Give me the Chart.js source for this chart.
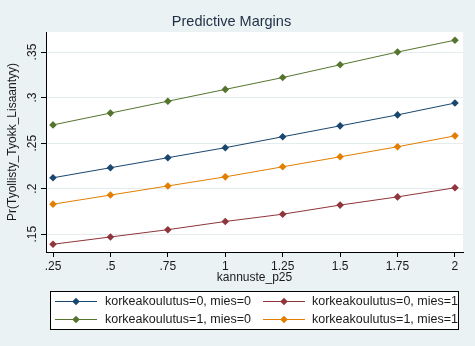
<!DOCTYPE html>
<html>
<head>
<meta charset="utf-8">
<script src="https://cdn.jsdelivr.net/npm/chart.js@4/dist/chart.umd.min.js"></script>
<style>
  html, body { margin: 0; padding: 0; background: #eaf2f3; }
  #wrap { width: 475px; height: 346px; }
</style>
</head>
<body>
<div id="wrap"><canvas id="c" width="475" height="346"></canvas></div>
<script>
// kannuste_p25 values at which margins were evaluated
const xValues = [0.25, 0.5, 0.75, 1, 1.25, 1.5, 1.75, 2];
const xTicks = [0.25, 0.5, 0.75, 1, 1.25, 1.5, 1.75, 2];
const yTicks = [0.15, 0.2, 0.25, 0.3, 0.35];

// Predicted Pr(Tyollisty_Tyokk_Lisaantyy) by group
const seriesLabels = [
  'korkeakoulutus=0, mies=0',
  'korkeakoulutus=0, mies=1',
  'korkeakoulutus=1, mies=0',
  'korkeakoulutus=1, mies=1'
];
const k0m0 = [0.212, 0.223, 0.234, 0.245, 0.257, 0.269, 0.281, 0.294];
const k0m1 = [0.139, 0.147, 0.155, 0.164, 0.172, 0.182, 0.191, 0.201];
const k1m0 = [0.270, 0.283, 0.296, 0.309, 0.322, 0.336, 0.350, 0.363];
const k1m1 = [0.183, 0.193, 0.203, 0.213, 0.224, 0.235, 0.246, 0.258];

const colors = ['#1a476f', '#90353b', '#55752f', '#e37e00'];
const seriesData = [k0m0, k0m1, k1m0, k1m1];

const FONT = '"Liberation Sans", Arial, sans-serif';

function fmt(v) {
  let s = String(Math.round(v * 100) / 100);
  return s.startsWith('0.') ? s.slice(1) : s;
}

// White plotting region on the light panel background
const plotBg = {
  id: 'plotBg',
  beforeDraw(chart) {
    const a = chart.chartArea, ctx = chart.ctx;
    ctx.save();
    ctx.fillStyle = '#eaf2f3';
    ctx.fillRect(0, 0, chart.width, chart.height);
    ctx.fillStyle = '#ffffff';
    ctx.fillRect(a.left, a.top, a.right - a.left, a.bottom - a.top);
    ctx.restore();
  }
};

// Boxed two-column legend below the axis title
const boxLegend = {
  id: 'boxLegend',
  afterDraw(chart) {
    const ctx = chart.ctx;
    const box = { l: 50.5, t: 291.5, r: 458.5, b: 329.5 };
    ctx.save();
    ctx.fillStyle = '#ffffff';
    ctx.fillRect(box.l, box.t, box.r - box.l, box.b - box.t);
    ctx.strokeStyle = '#000000';
    ctx.lineWidth = 1;
    ctx.strokeRect(box.l, box.t, box.r - box.l, box.b - box.t);
    const cols = [{ x0: 55, x1: 97, tx: 105 }, { x0: 263, x1: 305, tx: 312 }];
    const rows = [301.5, 319.5];
    ctx.font = '12.5px ' + FONT;
    ctx.textBaseline = 'middle';
    ctx.textAlign = 'left';
    chart.data.datasets.forEach((ds, i) => {
      const c = cols[i % 2], y = rows[Math.floor(i / 2)];
      ctx.strokeStyle = ds.borderColor;
      ctx.beginPath();
      ctx.moveTo(c.x0, y);
      ctx.lineTo(c.x1, y);
      ctx.stroke();
      const mx = (c.x0 + c.x1) / 2, r = 3.8;
      ctx.fillStyle = ds.borderColor;
      ctx.beginPath();
      ctx.moveTo(mx, y - r);
      ctx.lineTo(mx + r, y);
      ctx.lineTo(mx, y + r);
      ctx.lineTo(mx - r, y);
      ctx.closePath();
      ctx.fill();
      ctx.fillStyle = '#1a1a1a';
      ctx.fillText(ds.label, c.tx, y + 0.5);
    });
    ctx.restore();
  }
};

const datasets = seriesLabels.map((label, i) => ({
  label,
  data: xValues.map((x, j) => ({ x, y: seriesData[i][j] })),
  borderColor: colors[i],
  backgroundColor: colors[i],
  borderWidth: 1,
  pointStyle: 'rectRot',
  pointRadius: 3.8,
  pointHoverRadius: 3.8,
  pointBorderWidth: 0,
  tension: 0
}));

new Chart(document.getElementById('c'), {
  type: 'line',
  data: { datasets },
  plugins: [plotBg, boxLegend],
  options: {
    responsive: false,
    animation: false,
    events: [],
    layout: { padding: { left: 0, right: 12, top: 0, bottom: 54 } },
    plugins: {
      legend: { display: false },
      tooltip: { enabled: false },
      title: {
        display: true,
        text: 'Predictive Margins',
        color: '#1e2e44',
        font: { family: FONT, size: 14.5, weight: 'normal', lineHeight: 1.2 },
        padding: { top: 13, bottom: 1.6 }
      }
    },
    scales: {
      x: {
        type: 'linear',
        min: 0.2195,
        max: 2.035,
        afterBuildTicks(scale) { scale.ticks = xTicks.map(v => ({ value: v })); },
        afterFit(scale) { scale.height = 40; },
        ticks: {
          callback: v => fmt(v),
          color: '#1a1a1a',
          font: { family: FONT, size: 12 },
          padding: 2,
          maxRotation: 0,
          autoSkip: false
        },
        grid: { drawOnChartArea: false, tickLength: 5, tickColor: '#000000' },
        border: { color: '#000000', width: 1 },
        title: {
          display: true,
          text: 'kannuste_p25',
          color: '#1a1a1a',
          font: { family: FONT, size: 12, lineHeight: 1.2 },
          padding: { top: 0, bottom: 7.5 }
        }
      },
      y: {
        type: 'linear',
        min: 0.1305,
        max: 0.372,
        afterBuildTicks(scale) { scale.ticks = yTicks.map(v => ({ value: v })); },
        afterFit(scale) { scale.width = 46; },
        ticks: {
          callback: v => fmt(v),
          color: '#1a1a1a',
          font: { family: FONT, size: 12 },
          minRotation: 90,
          maxRotation: 90,
          crossAlign: 'center',
          padding: 0,
          autoSkip: false
        },
        grid: { color: '#e4ecee', lineWidth: 1, tickLength: 5, tickColor: '#000000' },
        border: { color: '#000000', width: 1 },
        title: {
          display: true,
          text: 'Pr(Tyollisty_Tyokk_Lisaantyy)',
          color: '#1a1a1a',
          font: { family: FONT, size: 12, lineHeight: 1.2 },
          padding: { top: 5, bottom: 0 }
        }
      }
    }
  }
});
</script>
</body>
</html>
